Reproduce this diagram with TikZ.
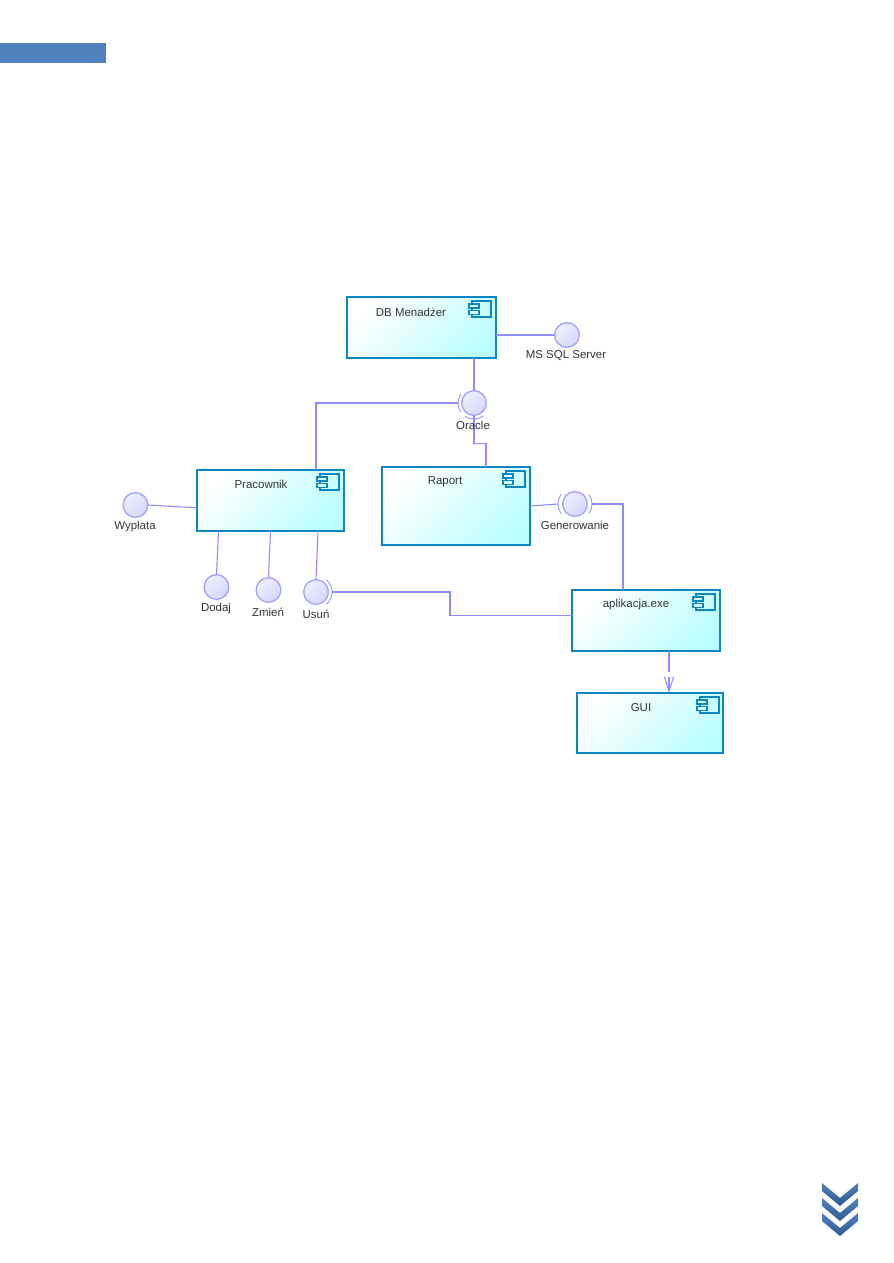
\documentclass[tikz,border=0pt]{standalone}
\usepackage{fontspec}
\setmainfont{Liberation Sans}
\usepackage{xcolor}
\usetikzlibrary{arrows.meta,shapes,positioning,calc}
\definecolor{compedge}{HTML}{0B86BE}
\definecolor{compfill}{HTML}{BCFDFF}
\definecolor{wireblue}{HTML}{8C8CFF}
\definecolor{ballfill}{HTML}{D6D6FA}
\definecolor{balledge}{HTML}{A3A3F8}
\definecolor{pageblue}{HTML}{4F81BD}
\definecolor{chevdark}{HTML}{2F5A92}
\tikzset{
    compbox/.style={draw=compedge, line width=1.7pt, inner sep=0pt, outer sep=0pt,
        top color=white, bottom color=compfill, shading angle=45},
    compname/.style={font=\fontsize{8.6}{10}\selectfont, text=black!80, inner sep=0pt},
    ball/.style={circle, draw=balledge, line width=1pt, inner sep=0pt, outer sep=0pt,
        minimum size=18.5pt, top color=white!60!ballfill, bottom color=ballfill, shading angle=45},
    wire/.style={draw=wireblue, line width=0.8pt},
    sock/.style={draw=balledge, line width=0.8pt},
    compicon/.pic={
        \draw[compedge, line width=1.1pt] (-19,0) rectangle (0,16);
        \filldraw[draw=compedge, fill=compfill!50!white, line width=0.8pt] (-22,3) rectangle (-12,7);
        \filldraw[draw=compedge, fill=compfill!50!white, line width=0.8pt] (-22,9.5) rectangle (-12,13.5);
    }
}

\begin{document}
\begin{tikzpicture}[x=0.75pt, y=-0.75pt]
    \useasboundingbox (0,0) rectangle (893,1263);

    % Header band
    \fill[pageblue] (0,43) rectangle (106,63);

    % Components
    \node[compbox, minimum width=111.75pt, minimum height=45.75pt] (db) at (421.5,327.5) {};
    \node[compbox, minimum width=110.25pt, minimum height=45.75pt] (prac) at (270.5,500.5) {};
    \node[compbox, minimum width=111pt, minimum height=58.5pt] (raport) at (456,506) {};
    \node[compbox, minimum width=111pt, minimum height=45.75pt] (app) at (646,620.5) {};
    \node[compbox, minimum width=109.5pt, minimum height=45pt] (gui) at (650,723) {};

    % Component icons
    \pic at ([xshift=-3.75pt, yshift=-3pt]db.north east) {compicon};
    \pic at ([xshift=-3.75pt, yshift=-3pt]prac.north east) {compicon};
    \pic at ([xshift=-3.75pt, yshift=-3pt]raport.north east) {compicon};
    \pic at ([xshift=-3.75pt, yshift=-3pt]app.north east) {compicon};
    \pic at ([xshift=-3pt, yshift=-3pt]gui.north east) {compicon};

    % Interfaces
    \node[ball] (mssql) at (567,335) {};
    \node[ball] (oracle) at (474,403) {};
    \node[ball] (wyplata) at (135.5,505) {};
    \node[ball] (dodaj) at (216.5,587) {};
    \node[ball] (zmien) at (268.5,590) {};
    \node[ball] (usun) at (316,592) {};
    \node[ball] (gen) at (575,504) {};

    % Required interface sockets
    \draw[sock] ([shift={(145:12pt)}]oracle.center) arc[start angle=145, end angle=215, radius=12pt];
    \draw[sock] ([shift={(235:12pt)}]oracle.center) arc[start angle=235, end angle=305, radius=12pt];
    \draw[sock] ([shift={(145:12.75pt)}]gen.center) arc[start angle=145, end angle=215, radius=12.75pt];
    \draw[sock] ([shift={(35:12.75pt)}]gen.center) arc[start angle=35, end angle=-35, radius=12.75pt];
    \draw[sock] ([shift={(50:12pt)}]usun.center) arc[start angle=50, end angle=-50, radius=12pt];

    % Connectors
    \draw[wire] (db.east |- mssql) -- (mssql.west);
    \draw[wire] (oracle |- db.south) -- (oracle.north);
    \draw[wire] ([xshift=34.1pt]prac.north) |- ([xshift=-11.8pt]oracle.center);
    \draw[wire] (oracle.south) -- ++(0,28) -| ([xshift=22.5pt]raport.north);
    \draw[wire] (wyplata.east) -- ([yshift=-5.5pt]prac.west |- prac.center);
    \draw[wire] ([xshift=-39pt]prac.south) -- (dodaj.north);
    \draw[wire] (prac.south) -- (zmien.north);
    \draw[wire] ([xshift=35.6pt]prac.south) -- (usun.north);
    \draw[wire] (raport.east) -- ([xshift=-12.75pt]gen.center);
    \draw[wire] ([xshift=12.75pt]gen.center) -| ([xshift=-17.25pt]app.north);
    \draw[wire] ([xshift=12pt]usun.center) -- ++(118,0) |- ([yshift=4.1pt]app.west);

    % Dependency from the application to the GUI
    \coordinate (gapa) at (669,672);
    \coordinate (gapb) at (669,677);
    \draw[wire] ([xshift=17.25pt]app.south) -- (gapa);
    \draw[wire, -{Straight Barb[length=11pt, width=7pt]}] (gapb) -- (gapb |- gui.north);

    % Names
    \node[compname] (dbname) at (411,312) {DB Menadżer};
    \node[compname] (pracname) at (261,484) {Pracownik};
    \node[compname] (raportname) at (445,482) {Raport};
    \node[compname] (appname) at (636,605) {aplikacja.exe};
    \node[compname] (guiname) at (641,708) {GUI};
    \node[compname] (mssqlname) at (566,356) {MS SQL Server};
    \node[compname] (oraclename) at (473,425) {Oracle};
    \node[compname] (wyplataname) at (135,527) {Wyplata};
    \node[compname] (dodajname) at (216,609) {Dodaj};
    \node[compname] (zmienname) at (268,612) {Zmień};
    \node[compname] (usunname) at (316,614) {Usuń};
    \node[compname] (genname) at (575,525) {Generowanie};

    % Page turn chevrons
    \foreach \yy in {0,15,30} {
        \shade[top color=pageblue, bottom color=chevdark, shift={(0,\yy)}]
            (822,1183) -- (840,1198) -- (858,1183) -- (858,1191) -- (840,1206) -- (822,1191) -- cycle;
    }
\end{tikzpicture}
\end{document}
